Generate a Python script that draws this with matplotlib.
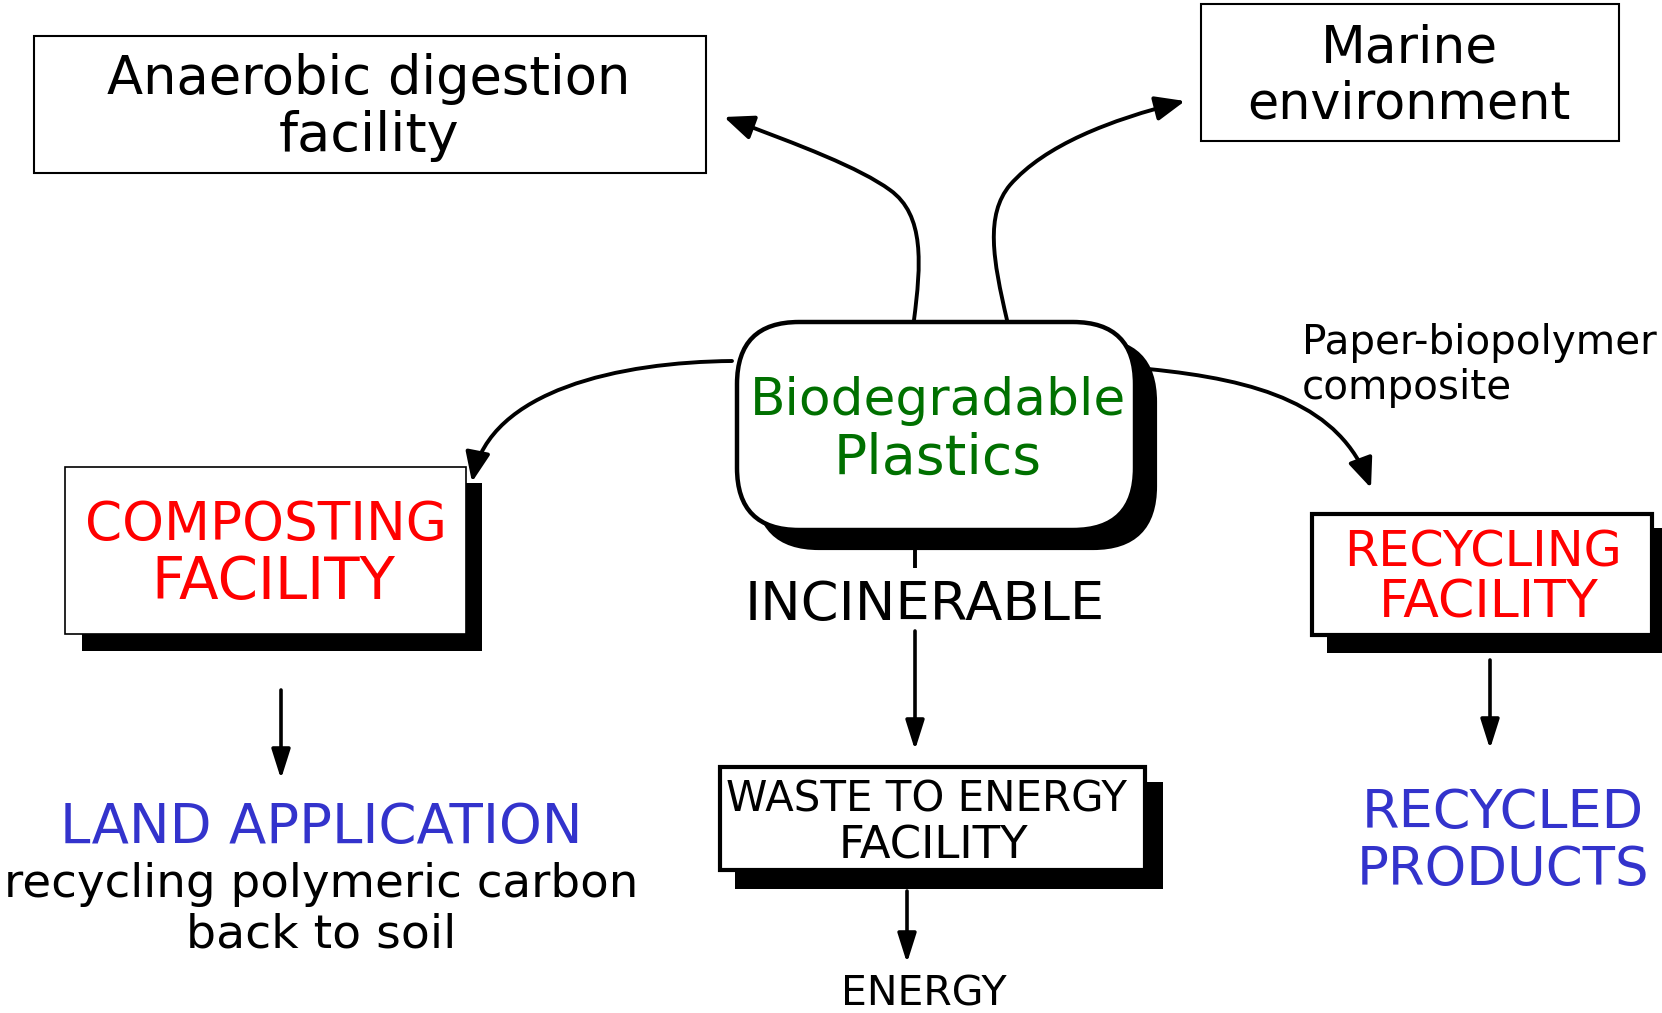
import matplotlib
matplotlib.use("Agg")
import matplotlib.pyplot as plt
from matplotlib.patches import Rectangle, FancyBboxPatch, FancyArrowPatch
from matplotlib.path import Path

# ---- diagram content ----
center_label = ["Biodegradable", "Plastics"]
top_left_label = ["Anaerobic digestion", "facility"]
top_right_label = ["Marine", "environment"]
composting_label = ["COMPOSTING", "FACILITY"]
recycling_label = ["RECYCLING", "FACILITY"]
waste_label = ["WASTE TO ENERGY", "FACILITY"]
incinerable_label = "INCINERABLE"
energy_label = "ENERGY"
land_label = "LAND APPLICATION"
land_sub = ["recycling polymeric carbon", "back to soil"]
recycled_label = ["RECYCLED", "PRODUCTS"]
paper_label = ["Paper-biopolymer", "composite"]

GREEN = "#007000"
RED = "#ff0000"
BLUE = "#3333cc"

W, H = 1662, 1013
fig = plt.figure(figsize=(W / 100, H / 100), dpi=100)
ax = fig.add_axes([0, 0, 1, 1])
ax.set_xlim(0, W)
ax.set_ylim(H, 0)
ax.axis("off")
renderer = fig.canvas.get_renderer()

FONT = "DejaVu Sans"


def fit_text(x, y, s, width, color="black", ha="center"):
    t = ax.text(x, y, s, fontsize=30, ha=ha, va="center", color=color,
                family=FONT, zorder=10)
    bb = t.get_window_extent(renderer)
    t.set_fontsize(30 * width / bb.width)
    return t


def box(x0, y0, x1, y1, lw, shadow=None):
    if shadow is not None:
        sx0, sy0, sx1, sy1 = shadow
        ax.add_patch(Rectangle((sx0, sy0), sx1 - sx0, sy1 - sy0,
                               facecolor="black", edgecolor="none", zorder=2))
    ax.add_patch(Rectangle((x0, y0), x1 - x0, y1 - y0, facecolor="white",
                           edgecolor="black", lw=lw, zorder=3))


def varrow(x, y0, y1):
    ax.add_patch(FancyArrowPatch((x, y0), (x, y1),
                                 arrowstyle="-|>,head_length=1.2,head_width=0.38",
                                 mutation_scale=15, lw=2.6, color="black",
                                 shrinkA=0, shrinkB=0, zorder=5))


def curve_arrow(verts, codes):
    ax.add_patch(FancyArrowPatch(path=Path(verts, codes),
                                 arrowstyle="-|>,head_length=1.2,head_width=0.5",
                                 mutation_scale=15, lw=2.8, color="black",
                                 zorder=5))


# ---- boxes ----
box(34, 36, 706, 173, 1.5)
box(1201, 4, 1619, 141, 1.5)
box(65, 467, 466, 634, 1.2, shadow=(82, 483, 482, 651))
box(1312, 514, 1652, 635, 3.0, shadow=(1327, 528, 1662, 653))
box(720, 767, 1145, 870, 3.0, shadow=(735, 782, 1163, 889))

# central rounded box with shadow
ax.add_patch(FancyBboxPatch((757, 340), 398, 208,
                            boxstyle="round,pad=0,rounding_size=62",
                            facecolor="black", edgecolor="black", lw=3, zorder=2))
ax.add_patch(FancyBboxPatch((737, 322), 398, 208,
                            boxstyle="round,pad=0,rounding_size=62",
                            facecolor="white", edgecolor="black", lw=3.2, zorder=3))

# ---- curves ----
C3 = Path.CURVE4
M = Path.MOVETO
# to anaerobic digestion
curve_arrow([(914, 320), (921, 265), (925, 215), (890, 190),
             (860, 168), (800, 145), (724, 117)],
            [M, C3, C3, C3, C3, C3, C3])
# to marine environment
curve_arrow([(1007, 320), (993, 260), (985, 215), (1010, 185),
             (1045, 145), (1110, 120), (1185, 101)],
            [M, C3, C3, C3, C3, C3, C3])
# to composting
curve_arrow([(732, 361), (620, 362), (490, 390), (472, 482)],
            [M, C3, C3, C3])
# to recycling
curve_arrow([(1148, 369), (1260, 380), (1340, 405), (1371, 488)],
            [M, C3, C3, C3])

# ---- straight connectors ----
ax.plot([915, 915], [546, 568], color="black", lw=2.8, zorder=4,
        solid_capstyle="butt")
varrow(915, 631, 750)
varrow(281, 690, 779)
varrow(1490, 660, 749)
varrow(907, 891, 963)

# ---- texts ----
fit_text(369, 79, top_left_label[0], 523)
fit_text(369, 136, top_left_label[1], 180)
fit_text(1409, 48, top_right_label[0], 177)
fit_text(1409, 104, top_right_label[1], 323)
fit_text(938, 401, center_label[0], 375, GREEN)
fit_text(938, 459, center_label[1], 208, GREEN)
fit_text(266, 525, composting_label[0], 362, RED)
fit_text(273, 582, composting_label[1], 244, RED)
fit_text(1483, 552, recycling_label[0], 278, RED)
fit_text(1489, 603, recycling_label[1], 220, RED)
fit_text(925, 605, incinerable_label, 360)
fit_text(926, 799, waste_label[0], 401)
fit_text(933, 846, waste_label[1], 190)
fit_text(924, 994, energy_label, 166)
fit_text(321, 828, land_label, 523, BLUE)
fit_text(321, 884, land_sub[0], 633)
fit_text(321, 935, land_sub[1], 270)
fit_text(1503, 813, recycled_label[0], 283, BLUE)
fit_text(1503, 870, recycled_label[1], 293, BLUE)
fit_text(1302, 343, paper_label[0], 354, ha="left")
fit_text(1302, 388, paper_label[1], 210, ha="left")

fig.savefig("out.png", dpi=100, facecolor="white")
